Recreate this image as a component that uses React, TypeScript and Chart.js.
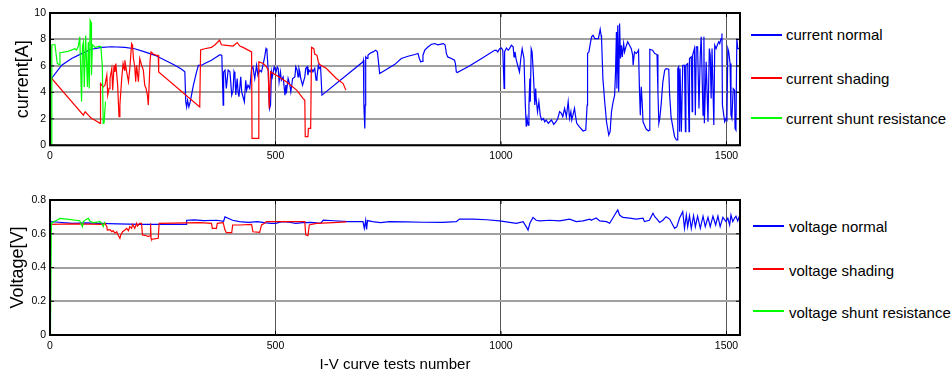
import React, { useEffect, useRef } from "react";
import { Chart, registerables } from "chart.js";

Chart.register(...registerables);

type P = [number, number];

// ---------- axes / labels ----------
const X_MAX = 1530;
const X_TICKS = [0, 500, 1000, 1500];
const CURRENT_TICKS = { min: 0, max: 10, step: 2 };
const VOLTAGE_TICKS = { min: 0, max: 0.8, step: 0.2 };
const CURRENT_TITLE = "current[A]";
const VOLTAGE_TITLE = "Voltage[V]";
const X_TITLE = "I-V curve tests number";
const CURRENT_LABELS = ["current normal", "current shading", "current shunt resistance"];
const VOLTAGE_LABELS = ["voltage normal", "voltage shading", "voltage shunt resistance"];

// ---------- current series ----------
const currentNormal: P[] = [
  [0, 4.9], [26, 6.05], [48, 6.56], [70, 6.93], [92, 7.26], [115, 7.4], [137, 7.45], [166, 7.4], [188, 7.3],
  [210, 7.06], [233, 6.8], [255, 6.43], [277, 6.05], [292, 5.75], [299, 5.55], [301, 3.3], [303, 2.9],
  [305, 3.4], [308, 2.9], [311, 3.3], [318, 4.55], [325, 5.55], [329, 6.05], [336, 6.05], [343, 6.18],
  [350, 6.3], [358, 6.43], [369, 6.68], [377, 6.85], [381, 6.8], [384, 3.04], [385, 5.55], [388, 5.68],
  [391, 4.3], [395, 5.68], [399, 5.55], [403, 3.8], [406, 4.17], [408, 5.55], [410, 5.3], [412, 3.8],
  [415, 5.05], [417, 4.04], [419, 3.67], [423, 5.17], [425, 4.04], [428, 3.67], [431, 3.29], [434, 4.92],
  [436, 4.17], [439, 4.55], [443, 4.29], [447, 5.8], [450, 5.93], [454, 5.05], [458, 6.05], [461, 5.3],
  [465, 5.68], [469, 5.55], [473, 6.18], [476, 6.68], [479, 7.31], [481, 7.19], [484, 5.55], [486, 3.29],
  [487, 2.79], [489, 3.04], [491, 5.55], [493, 5.17], [497, 5.93], [501, 5.55], [504, 5.93], [506, 5.8],
  [508, 4.8], [511, 5.55], [513, 4.92], [517, 5.17], [521, 3.79], [523, 4.55], [524, 3.92], [528, 5.05],
  [532, 4.55], [534, 4.04], [538, 5.05], [543, 5.17], [545, 5.93], [548, 5.68], [550, 5.17], [552, 5.8],
  [554, 5.55], [556, 5.05], [560, 4.55], [562, 4.8], [565, 5.17], [567, 5.8], [570, 5.93], [572, 5.3],
  [574, 5.68], [577, 5.55], [580, 5.8], [583, 5.55], [587, 5.8], [590, 4.92], [592, 5.17], [595, 6.05],
  [597, 5.8], [600, 5.93], [603, 3.79], [694, 6.31], [695, 6.43], [696, 3.04], [698, 1.28], [699, 3.04],
  [700, 6.68], [703, 6.56], [705, 6.81], [709, 6.94], [716, 7.06], [722, 7.19], [726, 7.06], [731, 5.43],
  [764, 6.1], [779, 6.56], [794, 6.73], [809, 6.86], [816, 6.94], [819, 6.56], [822, 6.3], [825, 6.35],
  [827, 6.81], [831, 7.19], [838, 7.43], [846, 7.64], [853, 7.69], [860, 7.6], [872, 7.69], [876, 7.6],
  [879, 6.93], [882, 6.68], [890, 6.56], [897, 6.43], [899, 6.18], [901, 5.55], [903, 5.5], [927, 5.93],
  [957, 6.56], [986, 7.18], [990, 7.18], [993, 7.06], [997, 7.3], [1001, 7.35], [1004, 7.19], [1007, 4.3],
  [1008, 7.06], [1012, 7.35], [1016, 7.19], [1019, 7.31], [1023, 7.56], [1027, 7.44], [1029, 6.68],
  [1031, 7.06], [1034, 6.43], [1037, 6.05], [1041, 5.55], [1044, 6.56], [1047, 7.3], [1051, 6.56],
  [1054, 3.04], [1056, 1.4], [1058, 2.03], [1060, 1.53], [1062, 3.04], [1064, 5.05], [1065, 3.29],
  [1067, 7.3], [1069, 7.06], [1072, 5.3], [1075, 3.04], [1077, 4.29], [1078, 3.54], [1081, 2.54],
  [1084, 3.29], [1087, 2.28], [1090, 1.91], [1094, 2.03], [1097, 1.78], [1100, 1.91], [1105, 1.66],
  [1108, 1.78], [1112, 1.91], [1117, 1.58], [1122, 1.78], [1126, 2.03], [1130, 2.54], [1134, 2.41],
  [1137, 2.16], [1141, 2.79], [1145, 2.16], [1149, 3.29], [1152, 2.03], [1155, 2.54], [1157, 1.91],
  [1163, 2.79], [1165, 2.28], [1168, 1.66], [1174, 1.4], [1182, 1.08], [1188, 1.15], [1191, 3.04],
  [1192, 6.94], [1195, 7.06], [1198, 7.69], [1201, 8.2], [1204, 8.32], [1208, 8.07], [1216, 8.07],
  [1220, 8.77], [1222, 8.32], [1223, 8.07], [1226, 5.05], [1230, 3.29], [1234, 1.78], [1239, 0.78],
  [1242, 1.03], [1245, 2.54], [1248, 3.17], [1252, 3.79], [1254, 5.55], [1256, 8.57], [1257, 4.29],
  [1259, 9.07], [1261, 4.04], [1263, 9.2], [1265, 6.56], [1267, 7.56], [1269, 6.68], [1272, 7.69],
  [1274, 7.06], [1277, 7.44], [1281, 7.82], [1285, 7.56], [1289, 7.31], [1292, 6.81], [1293, 6.05],
  [1296, 7.06], [1300, 6.94], [1303, 7.06], [1305, 7.19], [1307, 4.29], [1309, 2.28], [1311, 4.42],
  [1313, 3.29], [1315, 1.78], [1318, 1.53], [1322, 1.23], [1327, 1.08], [1329, 1.15], [1330, 7.26],
  [1336, 7.19], [1341, 6.94], [1346, 6.86], [1348, 4.04], [1350, 1.66], [1352, 2.03], [1355, 3.04],
  [1359, 4.8], [1363, 5.68], [1366, 5.8], [1372, 5.75], [1374, 3.79], [1376, 2.79], [1377, 2.16],
  [1381, 1.4], [1385, 0.65], [1389, 0.4], [1391, 0.4], [1392, 5.8], [1394, 5.93], [1396, 1.03],
  [1397, 5.8], [1400, 1.03], [1403, 6.05], [1407, 6.05], [1409, 1.03], [1410, 6.05], [1414, 6.18],
  [1417, 1.03], [1418, 6.56], [1422, 6.68], [1424, 2.54], [1425, 6.81], [1429, 7.31], [1431, 2.28],
  [1433, 7.44], [1436, 7.44], [1439, 2.79], [1442, 6.94], [1444, 8.2], [1448, 2.28], [1450, 8.2],
  [1451, 1.66], [1455, 6.31], [1459, 1.78], [1462, 7.31], [1464, 6.81], [1466, 3.54], [1468, 7.31],
  [1472, 1.53], [1474, 7.56], [1477, 7.31], [1481, 7.69], [1483, 7.82], [1485, 7.69], [1488, 8.07],
  [1490, 8.45], [1491, 3.04], [1494, 2.28], [1496, 1.78], [1499, 2.03], [1501, 1.91], [1503, 7.31],
  [1505, 7.06], [1508, 6.18], [1510, 2.28], [1512, 2.03], [1515, 4.29], [1518, 4.17], [1519, 1.28],
  [1521, 1.15], [1523, 8.07], [1525, 7.31], [1530, 7.31],
];

const currentShading: P[] = [
  [0, 5.2], [74, 2.28], [78, 2.53], [85, 2.28], [92, 2.03], [100, 1.9], [111, 1.66], [112, 4.67],
  [118, 4.42], [122, 4.55], [126, 5.3], [128, 3.8], [131, 4.3], [133, 5.05], [137, 5.8], [139, 4.17],
  [142, 6.05], [144, 5.55], [146, 6.18], [150, 4.55], [153, 2.16], [155, 3.04], [159, 5.05], [162, 6.18],
  [165, 5.68], [166, 6.43], [170, 5.55], [174, 4.8], [177, 5.8], [181, 7.69], [183, 7.56], [185, 6.56],
  [188, 5.93], [190, 4.8], [192, 6.05], [196, 4.8], [199, 6.56], [203, 6.05], [207, 5.68], [210, 4.55],
  [213, 4.3], [216, 3.8], [218, 3.04], [222, 6.43], [224, 7.06], [229, 6.9], [236, 6.8], [240, 6.8],
  [241, 5.55], [332, 2.9], [334, 7.2], [343, 7.3], [358, 7.4], [366, 7.6], [376, 7.95], [380, 7.6],
  [391, 7.56], [406, 7.5], [415, 7.77], [421, 7.5], [428, 7.4], [447, 7.06], [448, 0.52], [462, 0.52],
  [463, 6.3], [473, 6.18], [480, 5.93], [484, 5.68], [486, 2.78], [489, 5.55], [502, 5.3], [524, 4.8],
  [547, 4.17], [561, 3.54], [565, 3.4], [566, 0.65], [572, 0.65], [573, 1.28], [578, 1.28], [580, 7.4],
  [585, 7.3], [587, 6.9], [592, 6.8], [595, 6.3], [598, 6.1], [613, 5.8], [635, 5.05], [650, 4.67],
  [656, 4.17],
];

const currentShunt: P[] = [
  [0, 7.5], [1, 0], [3, 0], [4, 7.6], [11, 7.6], [16, 6.2], [20, 6.1], [22, 7.0], [40, 7.1], [55, 7.3],
  [59, 7.2], [63, 7.5], [66, 8.2], [70, 3.3], [72, 7.5], [74, 7.8], [76, 4.4], [79, 8.3], [83, 4.4],
  [85, 7.8], [87, 4.3], [89, 9.45], [91, 9.3], [92, 5.3], [94, 7.6], [100, 7.4], [111, 7.5], [113, 7.4],
  [116, 6.0], [118, 1.66], [120, 1.7], [123, 3.3],
];

// ---------- voltage series ----------
const voltageNormal: P[] = [
  [0, 0.672], [20, 0.668], [50, 0.662], [80, 0.665], [110, 0.662], [150, 0.658], [200, 0.655],
  [250, 0.656], [302, 0.656], [303, 0.68], [320, 0.682], [340, 0.678], [370, 0.68], [385, 0.674],
  [388, 0.7], [395, 0.692], [405, 0.68], [420, 0.672], [440, 0.668], [460, 0.672], [475, 0.666],
  [490, 0.662], [500, 0.662], [515, 0.672], [530, 0.668], [545, 0.662], [560, 0.666], [580, 0.667],
  [600, 0.662], [606, 0.681], [630, 0.677], [660, 0.672], [694, 0.672], [697, 0.632], [700, 0.68],
  [702, 0.625], [704, 0.678], [715, 0.672], [733, 0.666], [753, 0.672], [790, 0.67], [827, 0.668],
  [870, 0.668], [901, 0.672], [908, 0.687], [938, 0.687], [968, 0.683], [997, 0.676], [1034, 0.662],
  [1049, 0.672], [1056, 0.642], [1060, 0.622], [1064, 0.662], [1071, 0.697], [1078, 0.68], [1086, 0.676],
  [1108, 0.68], [1130, 0.676], [1152, 0.687], [1167, 0.672], [1182, 0.676], [1197, 0.687], [1200, 0.68],
  [1211, 0.693], [1219, 0.676], [1234, 0.672], [1241, 0.662], [1248, 0.693], [1252, 0.711], [1259, 0.741],
  [1263, 0.711], [1270, 0.697], [1285, 0.693], [1300, 0.687], [1315, 0.693], [1318, 0.672], [1329, 0.68],
  [1337, 0.721], [1341, 0.701], [1344, 0.693], [1352, 0.667], [1359, 0.68], [1366, 0.701], [1374, 0.687],
  [1381, 0.652], [1385, 0.632], [1390, 0.642], [1396, 0.693], [1403, 0.731], [1407, 0.632], [1411, 0.711],
  [1414, 0.642], [1418, 0.707], [1422, 0.632], [1427, 0.707], [1431, 0.642], [1436, 0.704], [1442, 0.632],
  [1448, 0.704], [1453, 0.642], [1459, 0.697], [1464, 0.642], [1470, 0.704], [1476, 0.652], [1481, 0.704],
  [1486, 0.642], [1492, 0.697], [1499, 0.672], [1503, 0.693], [1507, 0.652], [1510, 0.711], [1514, 0.672],
  [1518, 0.693], [1521, 0.704], [1525, 0.676], [1529, 0.707],
];

const voltageShading: P[] = [
  [0, 0.656], [50, 0.658], [118, 0.656], [122, 0.662], [126, 0.642], [127, 0.622], [133, 0.624],
  [137, 0.612], [140, 0.618], [144, 0.603], [148, 0.612], [151, 0.593], [155, 0.573], [157, 0.593],
  [161, 0.612], [166, 0.622], [170, 0.632], [174, 0.618], [177, 0.642], [181, 0.632], [183, 0.656],
  [186, 0.642], [188, 0.632], [192, 0.662], [194, 0.646], [199, 0.662], [203, 0.662], [205, 0.593],
  [214, 0.588], [218, 0.583], [222, 0.588], [223, 0.662], [224, 0.573], [225, 0.567], [240, 0.573],
  [242, 0.662], [332, 0.666], [358, 0.662], [360, 0.632], [369, 0.632], [371, 0.662], [384, 0.666],
  [388, 0.622], [391, 0.607], [403, 0.607], [405, 0.652], [421, 0.652], [447, 0.656], [450, 0.612],
  [465, 0.608], [469, 0.652], [476, 0.662], [480, 0.672], [517, 0.672], [565, 0.672], [567, 0.593],
  [572, 0.588], [575, 0.652], [580, 0.656], [591, 0.662], [628, 0.666], [657, 0.67],
];

const voltageShunt: P[] = [
  [1, 0], [3, 0.66], [4, 0.666], [15, 0.68], [22, 0.691], [37, 0.687], [66, 0.677], [72, 0.642],
  [74, 0.672], [80, 0.685], [85, 0.691], [89, 0.672], [96, 0.666], [111, 0.672], [115, 0.662],
  [118, 0.642], [122, 0.672],
];

const BLUE = "#0000ff";
const RED = "#ff0000";
const GREEN = "#00ff00";
const FONT = "'Liberation Sans', Arial, sans-serif";

const framePlugin = {
  id: "frame",
  afterDatasetsDraw(chart: any) {
    const { ctx, chartArea: a, scales } = chart;
    ctx.save();
    ctx.strokeStyle = "#000";
    ctx.lineWidth = 1;
    const seg = (x1: number, y1: number, x2: number, y2: number) => {
      ctx.beginPath();
      ctx.moveTo(x1, y1);
      ctx.lineTo(x2, y2);
      ctx.stroke();
    };
    for (const t of scales.x.ticks) {
      const p = scales.x.getPixelForValue(t.value);
      seg(p, a.bottom, p, a.bottom - 4);
      seg(p, a.top, p, a.top + 4);
    }
    for (const t of scales.y.ticks) {
      const p = scales.y.getPixelForValue(t.value);
      seg(a.left, p, a.left + 4, p);
      seg(a.right, p, a.right - 4, p);
    }
    ctx.lineWidth = 2;
    ctx.strokeRect(a.left, a.top, a.right - a.left, a.bottom - a.top);
    ctx.restore();
  },
};

function ds(label: string, pts: P[], color: string) {
  return {
    label,
    data: pts.map(([x, y]) => ({ x, y })),
    borderColor: color,
    backgroundColor: color,
    borderWidth: 1.2,
    pointRadius: 0,
    tension: 0,
    fill: false,
  };
}

function makeConfig(
  datasets: any[],
  yt: { min: number; max: number; step: number },
  yTitle: string,
  yTitlePad: number,
  padTop: number,
  xHeight: number,
  showXTitle: boolean
): any {
  return {
    type: "line",
    data: { datasets },
    plugins: [framePlugin],
    options: {
      animation: false,
      responsive: false,
      events: [],
      layout: { padding: { top: padTop, right: 10, left: 0, bottom: 0 } },
      plugins: { legend: { display: false }, tooltip: { enabled: false } },
      scales: {
        x: {
          type: "linear",
          min: 0,
          max: X_MAX,
          afterBuildTicks: (s: any) => {
            s.ticks = X_TICKS.map((v) => ({ value: v }));
          },
          afterFit: (s: any) => {
            s.height = xHeight;
          },
          border: { display: false },
          grid: { color: "#555555", lineWidth: 1, drawTicks: false },
          ticks: {
            autoSkip: false,
            maxRotation: 0,
            padding: 5,
            color: "#000",
            font: { family: FONT, size: 10.5 },
            callback: (v: any) => String(v),
          },
          title: {
            display: showXTitle,
            text: X_TITLE,
            color: "#000",
            font: { family: FONT, size: 15 },
            padding: { top: 0, bottom: 5 },
          },
        },
        y: {
          min: yt.min,
          max: yt.max,
          afterFit: (s: any) => {
            s.width = 50;
          },
          border: { display: false },
          grid: { color: "#a0a0a0", lineWidth: 2, drawTicks: false },
          ticks: {
            stepSize: yt.step,
            padding: 4,
            color: "#000",
            font: { family: FONT, size: 10.5 },
            callback: (v: any) => String(Math.round(v * 10) / 10),
          },
          title: {
            display: true,
            text: yTitle,
            color: "#000",
            font: { family: FONT, size: 18 },
            padding: { top: yTitlePad, bottom: 0 },
          },
        },
      },
    },
  };
}

function Legend({ labels, lineTops, textTops, lineLeft, textLeft }: any) {
  const colors = [BLUE, RED, GREEN];
  return (
    <>
      {labels.map((l: string, i: number) => (
        <React.Fragment key={l}>
          <div
            style={{
              position: "absolute",
              left: lineLeft,
              top: lineTops[i],
              width: 31,
              height: 2,
              background: colors[i],
            }}
          />
          <div
            style={{
              position: "absolute",
              left: textLeft,
              top: textTops[i] - 9,
              height: 18,
              lineHeight: "18px",
              fontFamily: FONT,
              fontSize: 15,
              color: "#000",
              whiteSpace: "nowrap",
            }}
          >
            {l}
          </div>
        </React.Fragment>
      ))}
    </>
  );
}

export default function App() {
  const topRef = useRef<HTMLCanvasElement>(null);
  const botRef = useRef<HTMLCanvasElement>(null);

  useEffect(() => {
    const top = new Chart(
      topRef.current as HTMLCanvasElement,
      makeConfig(
        [
          ds(CURRENT_LABELS[2], currentShunt, GREEN),
          ds(CURRENT_LABELS[1], currentShading, RED),
          ds(CURRENT_LABELS[0], currentNormal, BLUE),
        ],
        CURRENT_TICKS,
        CURRENT_TITLE,
        12,
        13,
        172 - 145.3,
        false
      )
    );
    const bot = new Chart(
      botRef.current as HTMLCanvasElement,
      makeConfig(
        [
          ds(VOLTAGE_LABELS[2], voltageShunt, GREEN),
          ds(VOLTAGE_LABELS[1], voltageShading, RED),
          ds(VOLTAGE_LABELS[0], voltageNormal, BLUE),
        ],
        VOLTAGE_TICKS,
        VOLTAGE_TITLE,
        7.5,
        22,
        44,
        true
      )
    );
    return () => {
      top.destroy();
      bot.destroy();
    };
  }, []);

  return (
    <div
      style={{
        position: "absolute",
        left: 0,
        top: 0,
        width: 952,
        height: 379,
        background: "#fff",
        overflow: "hidden",
      }}
    >
      <canvas ref={topRef} width={750} height={172} style={{ position: "absolute", left: 0, top: 0 }} />
      <canvas ref={botRef} width={750} height={201} style={{ position: "absolute", left: 0, top: 178 }} />
      <Legend
        labels={CURRENT_LABELS}
        lineTops={[34, 77, 117]}
        textTops={[35, 79, 119]}
        lineLeft={751}
        textLeft={786}
      />
      <Legend
        labels={VOLTAGE_LABELS}
        lineTops={[225, 268, 310]}
        textTops={[227, 271, 313]}
        lineLeft={753}
        textLeft={789}
      />
    </div>
  );
}
